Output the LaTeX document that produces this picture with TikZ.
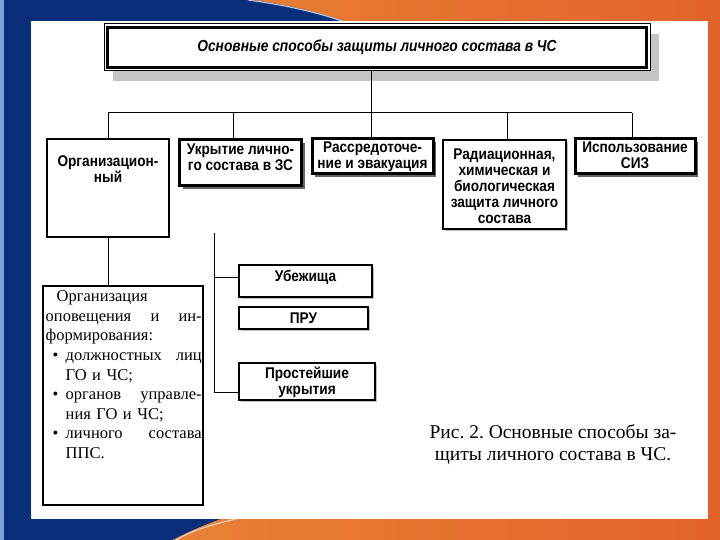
\documentclass[tikz,border=0pt]{standalone}
\usepackage{fontspec}
\setmainfont{Liberation Serif}
\newfontfamily\sansn[FakeStretch=0.88]{Liberation Sans}
\newfontfamily\sansti[FakeStretch=0.86]{Liberation Sans}
\usetikzlibrary{shadows}
\frenchspacing
\definecolor{navy}{HTML}{0B2E7A}
\definecolor{orng}{HTML}{E2632A}
\definecolor{orngl}{HTML}{EC8A3A}
\definecolor{ltblue}{HTML}{7FA3D6}
\definecolor{shadelt}{HTML}{C4C4C4}
\newcommand{\jline}[1]{\leavevmode\hbox to 156pt{#1}}
\newcommand{\bline}[1]{\leavevmode\hbox to 156pt{\hbox to 20pt{\hspace{7pt}\textbullet\hfil}#1}}
\tikzset{
  thickbox/.style={draw=black, line width=3pt, fill=white, inner sep=0pt,
    drop shadow={shadow xshift=3pt, shadow yshift=-3pt, fill=black!60, opacity=1}},
  medbox/.style={draw=black, line width=1.6pt, fill=white, inner sep=0pt},
  radbox/.style={draw=black, line width=1.8pt, fill=white, inner sep=0pt,
    drop shadow={shadow xshift=2pt, shadow yshift=-2pt, fill=black!25, opacity=1}},
  subbox/.style={draw=black, line width=2.2pt, fill=white, inner sep=0pt,
    drop shadow={shadow xshift=2pt, shadow yshift=-2pt, fill=black!25, opacity=1}},
  boxtxt/.style={font=\sansn\bfseries\fontsize{15.5}{16}\selectfont, align=center, inner sep=0pt, anchor=north},
  conn/.style={draw=black, line width=1pt},
}
\begin{document}
\begin{tikzpicture}[x=1pt,y=-1pt]
\useasboundingbox (0,0) rectangle (720,540);
% slide background
\shade[left color=orngl, right color=orng] (0,0) rectangle (720,540);
\fill[navy] (0,0) -- (252,0) .. controls (295,6) and (325,14) .. (348,24)
  -- (232,515) .. controls (205,524) and (188,532) .. (172,540) -- (0,540) -- cycle;
\fill[ltblue] (0,0) rectangle (4,540);
\draw[white!70!navy, line width=1.2pt] (248,0) .. controls (292,6) and (322,14) .. (345,22);
\draw[white!70!orng, line width=1.2pt] (236,519) .. controls (205,526) and (190,532) .. (176,540);
\fill[white] (31,21) rectangle (708,519);

% title
\node[draw=black, line width=1pt, fill=white, minimum width=546pt, minimum height=47pt, inner sep=0pt,
  drop shadow={shadow xshift=9pt, shadow yshift=-10pt, fill=shadelt, opacity=1},
  font=\sansti\bfseries\itshape\fontsize{16}{18}\selectfont] (title) at (377,47.5)
  {Основные способы защиты личного состава в ЧС};
\draw[line width=2.6pt] ([shift={(4pt,-4pt)}]title.north west) rectangle ([shift={(-4pt,4pt)}]title.south east);

% upper boxes
\node[medbox, minimum width=122pt, minimum height=98pt] (org) at (108,188) {};
\node[thickbox, minimum width=122pt, minimum height=46pt] (ukr) at (240.5,163) {};
\node[thickbox, minimum width=121pt, minimum height=35pt] (ras) at (372.5,156.5) {};
\node[radbox, minimum width=123pt, minimum height=89pt] (rad) at (504.5,184.5) {};
\node[thickbox, minimum width=120pt, minimum height=35pt] (siz) at (635,156.5) {};

\node[boxtxt] (orgT) at ([yshift=-17.5pt]org.north) {Организацион-\\ный};
\node[boxtxt] (ukrT) at ([yshift=-5pt]ukr.north) {Укрытие лично-\\го состава в ЗС};
\node[boxtxt] (rasT) at ([yshift=-4.5pt]ras.north) {Рассредоточе-\\ние и эвакуация};
\node[boxtxt] (radT) at ([yshift=-10pt]rad.north) {Радиационная,\\химическая и\\биологическая\\защита личного\\состава};
\node[boxtxt] (sizT) at ([yshift=-4.5pt]siz.north) {Использование\\СИЗ};

% connectors from title
\coordinate (bus) at (371,113);
\coordinate (dorg) at (108,113);
\coordinate (dukr) at (233,113);
\coordinate (dras) at (371,113);
\coordinate (drad) at (507,113);
\coordinate (dsiz) at (632,113);
\draw[conn] (bus |- title.south) -- (bus);
\draw[conn] (dorg) -- (dsiz);
\draw[conn] (dorg) -- (dorg |- org.north);
\draw[conn] (dukr) -- (dukr |- ukr.north);
\draw[conn] (dras) -- (dras |- ras.north);
\draw[conn] (drad) -- (drad |- rad.north);
\draw[conn] (dsiz) -- (dsiz |- siz.north);

% lower left box
\node[medbox, minimum width=160pt, minimum height=219pt] (low) at (123,395.5) {};
\draw[conn] (org.south) -- (org.south |- low.north);
\node[anchor=north west, inner sep=0pt, text width=156pt, align=left,
  font=\fontsize{16.5}{19.6}\selectfont] (lowT) at (45.5,290.5)
  {\hspace*{11pt}Организация\\
   \jline{оповещения\hfill и\hfill ин-}\\
   формирования:\\
   \bline{должностных\hfill лиц}\\
   \hspace*{20pt}ГО и ЧС;\\
   \bline{органов\hfill управле-}\\
   \hspace*{20pt}ния ГО и ЧС;\\
   \bline{личного\hfill состава}\\
   \hspace*{20pt}ППС.};

% shelter boxes
\node[subbox, minimum width=133pt, minimum height=32pt] (ube) at (305.5,281) {};
\node[subbox, minimum width=129pt, minimum height=22pt] (pru) at (303.5,318) {};
\node[subbox, minimum width=136pt, minimum height=37pt] (pro) at (307,381.5) {};
\node[boxtxt] (ubeT) at ([yshift=-6pt]ube.north) {Убежища};
\node[boxtxt, anchor=center] (pruT) at (pru.center) {ПРУ};
\node[boxtxt] (proT) at ([yshift=-4.5pt]pro.north) {Простейшие\\укрытия};

\coordinate (vtop) at (214,233);
\coordinate (vA) at (214,277);
\coordinate (vB) at (214,392);
\draw[conn] (vtop) -- (vB) -- (vB -| pro.west);
\draw[conn] (vA) -- (vA -| ube.west);

% caption
\node[align=center, inner sep=0pt, font=\fontsize{19.5}{22}\selectfont] (cap) at (553,445)
  {Рис. 2. Основные способы за-\\щиты личного состава в ЧС.};
\end{tikzpicture}
\end{document}
